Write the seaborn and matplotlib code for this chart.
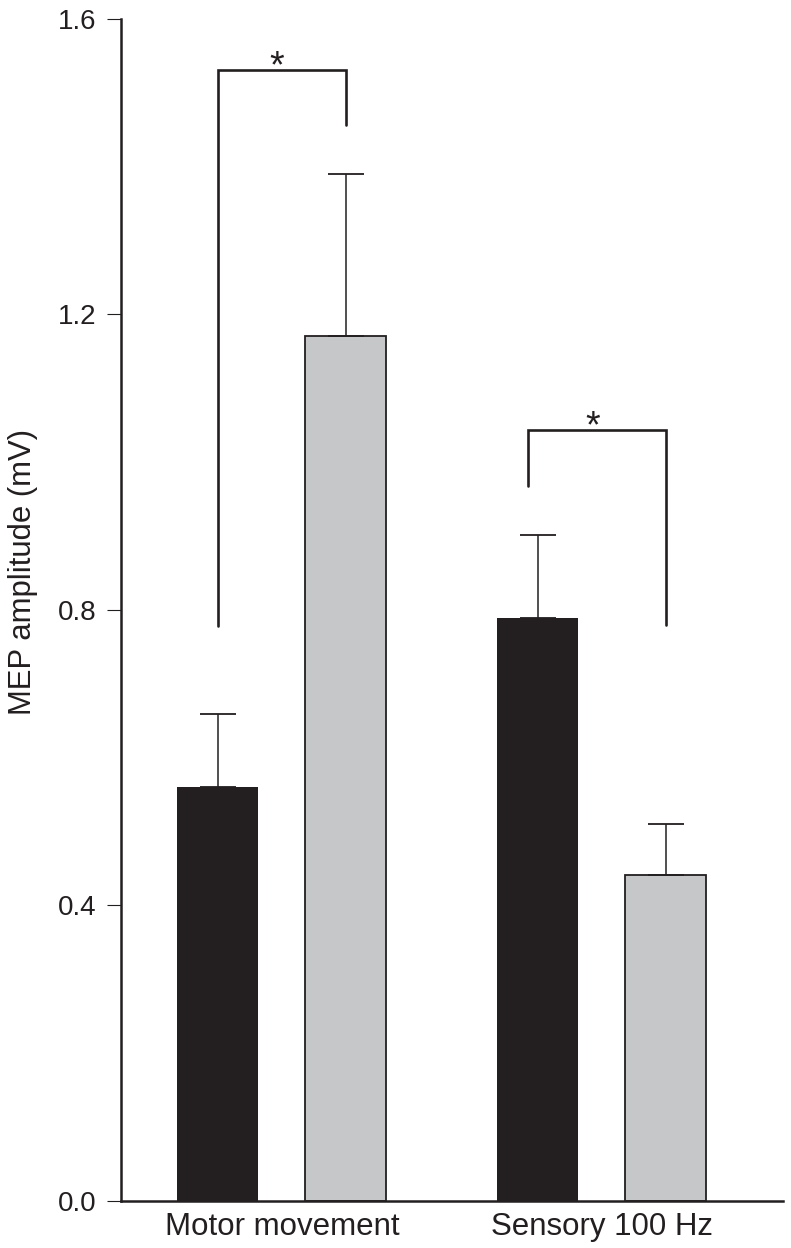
import numpy as np
import pandas as pd
import matplotlib
matplotlib.use("Agg")
import matplotlib.pyplot as plt
import seaborn as sns

### Data
conditions = ["Motor movement", "Sensory 100 Hz"]
groups = ["A", "B"]
means = {"A": [0.560, 0.789], "B": [1.171, 0.441]}
errs = {"A": [0.099, 0.112], "B": [0.219, 0.069]}

# brackets: (condition index, left leg bottom, bar top, right leg bottom)
brackets = [
    (0, 0.778, 1.531, 1.457),
    (1, 0.968, 1.044, 0.780),
]

BLACK = "#231f20"
GRAY = "#c6c7c9"

rows = []
for g in groups:
    for c, m, e in zip(conditions, means[g], errs[g]):
        rows.append({"condition": c, "group": g, "mean": m, "err": e})
df = pd.DataFrame(rows)

sns.set_style("ticks")
plt.rcParams["font.family"] = ["Liberation Sans", "DejaVu Sans"]

fig = plt.figure(figsize=(7.91, 12.48), dpi=100)
ax = fig.add_axes([0.153, 0.0377, 0.837, 0.9471])

sns.barplot(data=df, x="condition", y="mean", hue="group", order=conditions,
            hue_order=groups, palette=[BLACK, GRAY], width=0.8, gap=0.367,
            errorbar=None, legend=False, saturation=1, ax=ax)

# bars come out per hue level: black ones first, then gray
bars = list(ax.patches)
n = len(conditions)
for i, p in enumerate(bars):
    p.set_edgecolor(BLACK)
    p.set_linewidth(1.3 if i >= n else 0)

centers = {}
for gi, g in enumerate(groups):
    for ci in range(n):
        p = bars[gi * n + ci]
        centers[(g, ci)] = p.get_x() + p.get_width() / 2

for g in groups:
    xs = [centers[(g, ci)] for ci in range(n)]
    ax.errorbar(xs, means[g], yerr=[np.zeros(n), errs[g]], fmt="none",
                ecolor=BLACK, elinewidth=1.1, capsize=13, capthick=1.3, zorder=1)

# significance brackets
for ci, yl, yt, yr in brackets:
    xl = centers[("A", ci)]
    xr = centers[("B", ci)]
    if ci == 1:
        xl -= 0.03
    ax.plot([xl, xl, xr, xr], [yl, yt, yt, yr], color=BLACK, lw=1.9,
            solid_joinstyle="miter", clip_on=False)
    ax.annotate("*", xy=((xl + xr) / 2, yt), xytext=(-3.5, -5.5),
                textcoords="offset points", ha="center", va="baseline",
                fontsize=27, color=BLACK)

ax.set_xlim(-0.503, 1.566)
ax.set_ylim(0, 1.6)
ax.set_yticks([0.0, 0.4, 0.8, 1.2, 1.6])
ax.set_yticklabels(["0.0", "0.4", "0.8", "1.2", "1.6"])
ax.set_xlabel("")
ax.set_ylabel("MEP amplitude (mV)", fontsize=22.4, color=BLACK)
ax.yaxis.set_label_coords(-0.126, 0.532)

ax.tick_params(axis="y", length=10, width=0.8, pad=8, labelsize=20,
               colors=BLACK)
ax.tick_params(axis="x", length=0, pad=8, labelsize=22.5, colors=BLACK)

sns.despine(ax=ax)
for s in ["left", "bottom"]:
    ax.spines[s].set_linewidth(1.8)
    ax.spines[s].set_color(BLACK)

fig.savefig("out.png", dpi=100)
